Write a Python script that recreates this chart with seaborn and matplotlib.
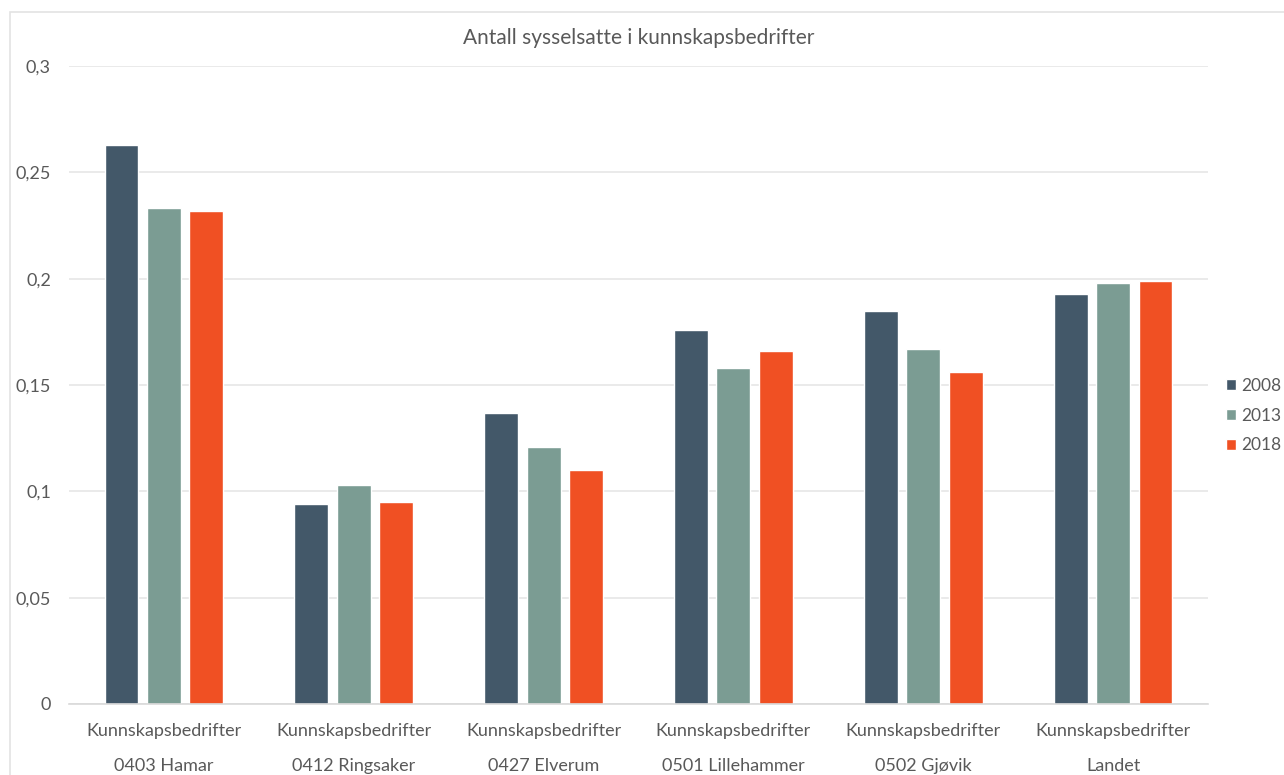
import matplotlib
matplotlib.use("Agg")
import matplotlib.pyplot as plt
from matplotlib.patches import Rectangle
from matplotlib.ticker import FuncFormatter, FixedLocator
import seaborn as sns
import pandas as pd

# Andel sysselsatte i kunnskapsbedrifter per region og år
regioner = ["0403 Hamar", "0412 Ringsaker", "0427 Elverum",
            "0501 Lillehammer", "0502 Gjøvik", "Landet"]
gruppe = "Kunnskapsbedrifter"
aar = ["2008", "2013", "2018"]
v2008 = [0.263, 0.094, 0.137, 0.176, 0.185, 0.193]
v2013 = [0.233, 0.103, 0.121, 0.158, 0.167, 0.198]
v2018 = [0.232, 0.095, 0.110, 0.166, 0.156, 0.199]
farger = ["#435869", "#7b9c93", "#f05023"]

etiketter = [f"{gruppe}\n{r}" for r in regioner]
df = pd.DataFrame({
    "kategori": etiketter * 3,
    "år": sum([[a] * len(regioner) for a in aar], []),
    "verdi": v2008 + v2013 + v2018,
})

sns.set_theme(style="white")
plt.rcParams["font.family"] = ["Lato", "DejaVu Sans"]
tekst = "#595959"
linje = "#d9d9d9"

fig = plt.figure(figsize=(12.84, 7.75), dpi=100)
fig.patch.set_facecolor("white")
# ramme rundt diagrammet
fig.patches.append(Rectangle((10 / 1284, -0.05), 1.1, (775 - 12) / 775 + 0.05,
                             transform=fig.transFigure, fill=False,
                             edgecolor="#e3e3e3", linewidth=1.2))

ax = fig.add_axes([69 / 1284, 71 / 775, (1208 - 69) / 1284, (704 - 66) / 775])
sns.barplot(data=df, x="kategori", y="verdi", hue="år", palette=farger,
            width=0.67, gap=0.2, saturation=1, ax=ax, legend=True)

ax.set_ylim(0, 0.3)
ax.set_xlim(-0.5, len(regioner) - 0.5)
ax.set_yticks([0, 0.05, 0.1, 0.15, 0.2, 0.25, 0.3])
ax.yaxis.set_major_formatter(FuncFormatter(
    lambda v, p: "0" if v == 0 else f"{v:g}".replace(".", ",")))
ax.yaxis.grid(True, color="#e6e6e6", linewidth=1.2)
ax.set_axisbelow(True)
ax.tick_params(axis="y", length=0, labelsize=13, labelcolor=tekst, pad=13)
ax.set_xlabel("")
ax.set_ylabel("")

# kategoriakse med bokser under hver gruppe
ax.xaxis.set_major_locator(FixedLocator([i - 0.5 for i in range(len(regioner) + 1)]))
ax.xaxis.set_major_formatter(FuncFormatter(lambda v, p: ""))
ax.xaxis.set_minor_locator(FixedLocator(list(range(len(regioner)))))
ax.set_xticks(range(len(regioner)), labels=etiketter, minor=True)
ax.tick_params(axis="x", which="major", direction="out", length=60,
               color=linje, width=1.2)
ax.tick_params(axis="x", which="minor", length=0, labelsize=13,
               labelcolor=tekst, pad=14)
for lab in ax.get_xticklabels(minor=True):
    lab.set_linespacing(2.45)
    lab.set_verticalalignment("top")

for s in ["top", "right", "left"]:
    ax.spines[s].set_visible(False)
ax.spines["bottom"].set_color(linje)
ax.spines["bottom"].set_linewidth(1.2)

ax.set_title("Antall sysselsatte i kunnskapsbedrifter", fontsize=15,
             color=tekst, pad=16)

leg = ax.legend(title=None, loc="center left", bbox_to_anchor=(1.0158, 0.452),
                frameon=False, fontsize=12.5, handlelength=0.6,
                handleheight=0.6, handletextpad=0.3, labelspacing=0.78,
                borderpad=0, borderaxespad=0)
for t in leg.get_texts():
    t.set_color(tekst)

fig.savefig("out.png", dpi=100, facecolor="white")
